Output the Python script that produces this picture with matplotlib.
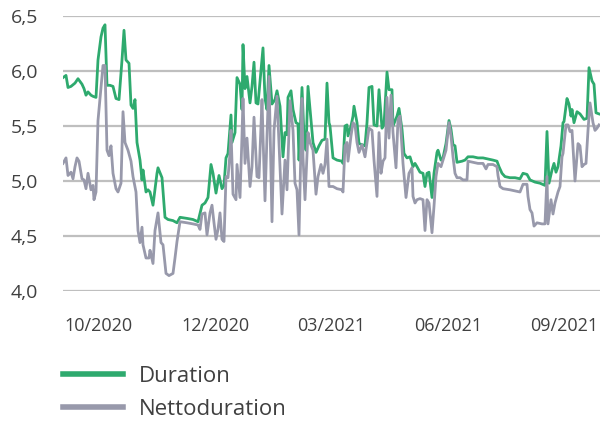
import numpy as np
import matplotlib
matplotlib.use("Agg")
from matplotlib import pyplot as plt
from matplotlib.ticker import FuncFormatter

# observation index (trading days along the category axis) and values
dur_day = [0, 3, 5, 8, 12, 15, 19, 21, 23, 25, 28, 30, 33, 35, 38, 40, 42, 44, 47, 50,
           53, 56, 59, 61, 63, 66, 68, 70, 72, 74, 77, 79, 80, 83, 85,
           87, 90, 94, 95, 99, 102, 105, 110, 114, 117, 124, 130, 135, 139, 142, 145, 148,
           150, 153, 156, 159, 161, 163, 165, 168, 169, 172, 174, 177,
           179, 180, 182, 184, 187, 189, 191, 193, 195, 198, 200, 202, 204, 206, 209, 212,
           214, 217, 220, 222, 224, 225, 228, 230, 233, 235, 236, 239, 241, 243, 245, 248,
           250, 253, 256, 259, 262, 264, 266,
           267, 270, 274, 279, 280, 282, 284, 285, 288, 290, 291, 294, 296, 299, 302, 304,
           306, 309, 311, 314, 316, 319, 321, 324, 326, 329, 330, 334, 336, 339, 341, 344,
           347, 350, 352, 354, 357,
           360, 362, 364, 366, 369, 371, 374, 375, 378, 380, 383, 386, 388, 390, 392, 394,
           399, 402, 405, 410, 415, 420, 425, 430, 434, 436, 439, 442, 447,
           452, 457, 460, 464, 467, 472, 477, 482, 484, 486, 489, 491, 493, 495, 498, 500,
           501, 504, 506, 508, 509, 511, 514, 517, 521, 524, 526, 529, 531, 533, 536]
duration = [5.94, 5.96, 5.85, 5.86, 5.89, 5.93, 5.88, 5.84, 5.78, 5.81, 5.78, 5.77, 5.76, 6.10, 6.31, 6.39, 6.42, 5.87, 5.87, 5.86,
            5.75, 5.74, 6.10, 6.37, 6.10, 6.07, 5.69, 5.66, 5.74, 5.35, 5.19, 5.01, 5.10, 4.90, 4.92,
            4.90, 4.78, 5.07, 5.12, 5.03, 4.67, 4.65, 4.64, 4.62, 4.67, 4.66, 4.65, 4.63, 4.78, 4.80, 4.85, 5.15,
            5.07, 4.89, 5.05, 4.93, 4.96, 5.21, 5.25, 5.60, 5.35, 5.44, 5.94, 5.88,
            5.65, 6.24, 5.84, 5.95, 5.71, 5.86, 6.08, 5.71, 5.70, 6.01, 6.21, 5.75, 5.65, 6.05, 5.70, 5.74,
            5.82, 5.68, 5.22, 5.44, 5.42, 5.76, 5.82, 5.65, 5.53, 5.52, 5.19, 5.85, 5.41, 5.28, 5.86, 5.56,
            5.35, 5.26, 5.32, 5.37, 5.38, 5.89, 5.53,
            5.50, 5.21, 5.19, 5.18, 5.16, 5.50, 5.51, 5.41, 5.50, 5.59, 5.68, 5.53, 5.34, 5.33, 5.32, 5.53,
            5.85, 5.86, 5.51, 5.50, 5.83, 5.48, 5.51, 5.99, 5.83, 5.83, 5.50, 5.59, 5.66, 5.47, 5.25, 5.21,
            5.22, 5.13, 5.16, 5.13, 5.08,
            5.07, 4.95, 5.07, 5.08, 4.85, 5.07, 5.26, 5.28, 5.19, 5.21, 5.34, 5.55, 5.47, 5.33, 5.32, 5.17,
            5.18, 5.19, 5.22, 5.22, 5.21, 5.21, 5.20, 5.19, 5.18, 5.13, 5.07, 5.04, 5.03,
            5.03, 5.02, 5.07, 5.06, 5.01, 4.99, 4.98, 4.96, 5.45, 4.98, 5.10, 5.16, 5.08, 5.13, 5.32, 5.53,
            5.54, 5.75, 5.70, 5.59, 5.65, 5.53, 5.63, 5.61, 5.56, 5.57, 6.03, 5.91, 5.88, 5.62, 5.61]

netto_day = [0, 3, 5, 8, 10, 12, 14, 16, 19, 21, 23, 25, 28, 30, 31, 33, 35, 38, 40, 42,
             44, 46, 48, 50, 53, 55, 58, 60, 62, 65, 68, 70, 73, 75, 77, 79, 80, 83, 86,
             87, 90, 92, 95, 98, 100, 103, 106, 110, 112, 114, 117, 124, 130, 135, 137, 139,
             142, 144, 147, 149, 151, 153, 155, 157, 159, 161, 163, 165, 167, 168, 170, 173, 174, 177,
             179, 180, 182, 184, 187, 189, 191, 194, 196, 199, 200, 202, 204, 206, 209, 211,
             214, 216, 219, 222, 224, 227, 230, 232, 234, 236, 239, 240, 242, 245, 247, 250,
             253, 255, 258, 260, 262, 264, 266,
             270, 274, 279, 280, 282, 284, 285, 288, 290, 292, 294, 296, 299, 302, 304, 306,
             309, 311, 314, 316, 318, 320, 322, 324, 326, 328, 330, 333, 335, 337, 340, 343,
             346, 349, 350, 352, 354, 357,
             360, 362, 364, 366, 369, 371, 373, 375, 378, 380, 383, 386, 388, 390, 392, 394,
             397, 400, 404, 405, 410, 415, 420, 423, 425, 430, 434, 435, 437, 440, 447,
             452, 457, 460, 464, 465, 467, 469, 471, 474, 479, 482, 484, 485, 488, 490, 492,
             495, 497, 499, 500, 503, 505, 507, 509, 512, 515, 517, 519, 521, 523, 525, 527,
             530, 532, 534, 536]
nettoduration = [5.16, 5.21, 5.05, 5.08, 5.02, 5.13, 5.21, 5.18, 5.02, 5.01, 4.93, 5.07, 4.92, 4.96, 4.83, 4.90, 5.55, 5.85, 6.05, 6.05,
                 5.28, 5.23, 5.32, 5.07, 4.93, 4.90, 4.98, 5.63, 5.35, 5.28, 5.18, 5.04, 4.90, 4.55, 4.44, 4.58, 4.42, 4.30, 4.30,
                 4.37, 4.25, 4.55, 4.71, 4.44, 4.42, 4.16, 4.14, 4.16, 4.30, 4.45, 4.63, 4.62, 4.61, 4.60, 4.56, 4.70,
                 4.71, 4.51, 4.71, 4.78, 4.62, 4.47, 4.56, 4.71, 4.47, 4.45, 5.04, 5.03, 5.25, 5.46, 4.88, 4.83, 5.15, 4.85,
                 5.41, 5.75, 5.16, 5.39, 4.95, 5.13, 5.58, 5.04, 5.03, 5.74, 5.41, 4.82, 5.41, 5.95, 4.63, 5.46,
                 5.77, 5.35, 4.70, 5.19, 4.92, 5.73, 5.46, 4.98, 4.92, 4.51, 5.75, 5.22, 4.83, 5.44, 5.35, 5.28,
                 4.88, 5.04, 5.15, 5.07, 5.15, 5.38, 4.95,
                 4.95, 4.93, 4.92, 4.90, 5.32, 5.35, 5.18, 5.41, 5.53, 5.51, 5.35, 5.26, 5.33, 5.22, 5.35, 5.48,
                 5.46, 5.19, 4.86, 5.44, 5.07, 5.18, 5.21, 5.76, 5.39, 5.78, 5.44, 5.12, 5.56, 5.59, 5.16, 4.85,
                 5.07, 5.12, 4.86, 4.80, 4.83, 4.84,
                 4.83, 4.55, 4.83, 4.80, 4.53, 4.77, 5.04, 5.16, 5.13, 5.19, 5.28, 5.53, 5.41, 5.22, 5.07, 5.03,
                 5.03, 5.01, 5.01, 5.18, 5.17, 5.16, 5.16, 5.11, 5.15, 5.15, 5.13, 5.05, 4.95, 4.93, 4.92,
                 4.91, 4.90, 4.97, 4.97, 4.86, 4.74, 4.71, 4.59, 4.62, 4.61, 4.61, 5.04, 4.61, 4.83, 4.70, 4.80,
                 4.90, 4.95, 5.22, 5.25, 5.51, 5.51, 5.45, 5.46, 5.00, 5.34, 5.32, 5.13, 5.15, 5.16, 5.46, 5.71,
                 5.53, 5.46, 5.48, 5.51]

tick_days = [35, 152, 268, 385, 501]
tick_labels = ["10/2020", "12/2020", "03/2021", "06/2021", "09/2021"]

plt.rcParams["font.family"] = ["Open Sans", "DejaVu Sans"]
text_col = "#404040"
green = "#2eaa6e"
grey = "#9899ab"

fig = plt.figure(figsize=(6.0, 4.21), dpi=100)
ax = fig.add_axes([63 / 600, 1 - 291 / 421, 537 / 600, 275 / 421])

ax.plot(dur_day, duration, color=green, lw=2.0, label="Duration", solid_joinstyle="round")
ax.plot(netto_day, nettoduration, color=grey, lw=2.0, label="Nettoduration", solid_joinstyle="round")

ax.set_ylim(4.0, 6.5)
ax.set_xlim(0, 537)
ax.set_yticks(np.arange(4.0, 6.51, 0.5))
ax.yaxis.set_major_formatter(FuncFormatter(lambda v, p: f"{v:.1f}".replace(".", ",")))
ax.set_xticks(tick_days)
ax.set_xticklabels(tick_labels)
ax.grid(axis="y", color="#bfbfbf", lw=1.6)
ax.set_axisbelow(True)
for s in ax.spines.values():
    s.set_visible(False)
ax.tick_params(axis="y", length=0, pad=18, labelsize=14, labelcolor=text_col)
ax.tick_params(axis="x", length=0, pad=19, labelsize=13, labelcolor=text_col)

fig.legend(loc="upper left", bbox_to_anchor=(63 / 600, 1 - 366 / 421), frameon=False,
           fontsize=16, handlelength=2.7, handletextpad=0.7, labelspacing=0.55,
           borderpad=0, borderaxespad=0, labelcolor=text_col)
for line in fig.legends[0].get_lines():
    line.set_linewidth(4)

fig.savefig("out.png", dpi=100)
